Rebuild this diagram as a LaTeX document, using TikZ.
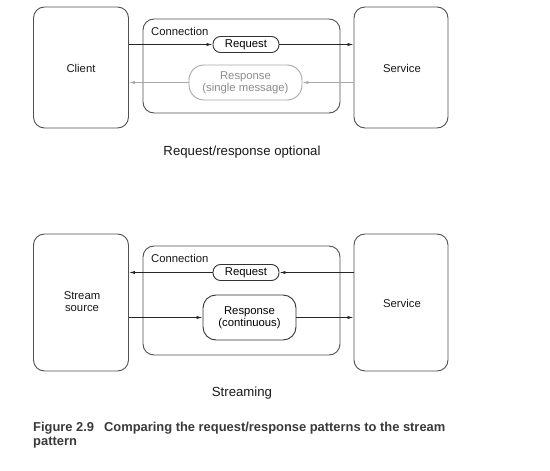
\documentclass[tikz,border=0pt]{standalone}
\usepackage{fontspec}
\setmainfont{Liberation Sans}
\usetikzlibrary{arrows.meta}
\definecolor{boxline}{HTML}{505050}
\definecolor{lightline}{HTML}{A8A8A8}
\definecolor{lighttext}{HTML}{8C8C8C}
\definecolor{captext}{HTML}{3A3A3A}
\begin{document}
\begin{tikzpicture}[x=1pt,y=-1pt,
  lbl/.style={font=\fontsize{11.3}{13}\selectfont, text=black!90, align=center, inner sep=0pt},
  bigbox/.style={draw=boxline, line width=0.9pt, rounded corners=11pt, inner sep=0pt},
  connbox/.style={draw=boxline, line width=0.9pt, rounded corners=11pt, inner sep=0pt},
  pill/.style={draw=black!80, line width=0.9pt, inner sep=0pt, align=center, font=\fontsize{11.3}{13}\selectfont},
  arr/.style={draw=black!85, line width=0.75pt, -{Latex[length=6pt,width=3.2pt]}},
  garr/.style={draw=lightline, line width=0.75pt, -{Latex[length=6pt,width=3.2pt]}}
]
\useasboundingbox (0,0) rectangle (550,471);
\fill[white] (0,0) rectangle (550,471);

% ---------- top diagram ----------
\node[bigbox, minimum width=95pt, minimum height=121pt] (client) at (81,67.5) {};
\node[lbl] (clientlbl) at (81,68) {Client};
\node[bigbox, minimum width=94pt, minimum height=121pt] (service) at (401,67.5) {};
\node[lbl] (servicelbl) at (402,68) {Service};
\node[connbox, minimum width=197pt, minimum height=94pt] (conn) at (241.5,66) {};
\node[lbl, anchor=west] (connlbl) at (151,31) {Connection};
\node[pill, rounded corners=7.5pt, minimum width=66pt, minimum height=16pt] (req) at (246,44.5) {Request};
\node[pill, draw=lightline, text=lighttext, rounded corners=15pt, minimum width=113pt, minimum height=35pt] (resp) at (245.5,82.5) {Response\\[-1pt](single message)};

\draw[arr] (client.east |- req.west) -- (req.west);
\draw[arr] (req.east) -- (service.west |- req.east);
\draw[garr] (service.west |- resp.east) -- (resp.east);
\draw[garr] (resp.west) -- (client.east |- resp.west);

\node[lbl, font=\fontsize{13.2}{15}\selectfont] (cap1) at (242,152) {Request/response optional};

% ---------- bottom diagram ----------
\node[bigbox, minimum width=95pt, minimum height=137pt] (source) at (81,302.5) {};
\node[lbl] (sourcelbl) at (82,302) {Stream\\[-1pt]source};
\node[bigbox, minimum width=94pt, minimum height=137pt] (service2) at (401,302.5) {};
\node[lbl] (service2lbl) at (402,303) {Service};
\node[connbox, minimum width=197pt, minimum height=109pt] (conn2) at (241.5,300.5) {};
\node[lbl, anchor=west] (conn2lbl) at (151,258) {Connection};
\node[pill, rounded corners=7.5pt, minimum width=66pt, minimum height=16pt] (req2) at (246,272.5) {Request};
\node[pill, rounded corners=13pt, minimum width=93pt, minimum height=45pt] (resp2) at (249.5,317.5) {Response\\[-1pt](continuous)};

\draw[arr] (service2.west |- req2.east) -- (req2.east);
\draw[arr] (req2.west) -- (source.east |- req2.west);
\draw[arr] (source.east |- resp2.west) -- (resp2.west);
\draw[arr] (resp2.east) -- (service2.west |- resp2.east);

\node[lbl, font=\fontsize{13.2}{15}\selectfont] (cap2) at (242,393) {Streaming};

% ---------- figure caption ----------
\node[anchor=west, inner sep=0pt, text=captext, font=\bfseries\fontsize{12.9}{15}\selectfont] (figcap1) at (33,428) {Figure 2.9\hspace{10pt}Comparing the request/response patterns to the stream};
\node[anchor=west, inner sep=0pt, text=captext, font=\bfseries\fontsize{12.9}{15}\selectfont] (figcap2) at (33,443) {pattern};
\end{tikzpicture}
\end{document}
